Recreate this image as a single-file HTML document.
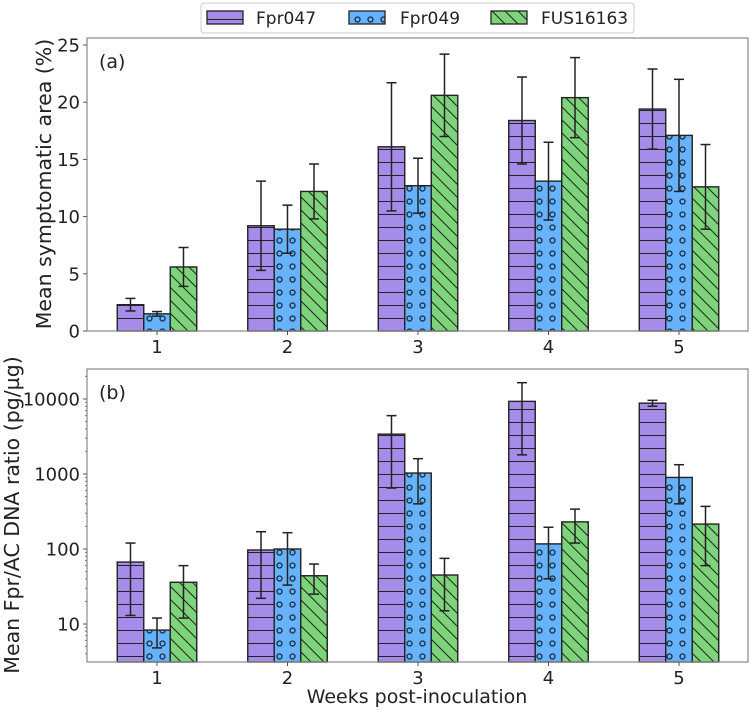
<!DOCTYPE html>
<html><head><meta charset="utf-8"><style>
body{margin:0;background:#fff;}
svg{display:block;font-family:"DejaVu Sans","Liberation Sans",sans-serif;}
</style></head><body>
<svg id="chart" width="751" height="711" viewBox="0 0 751 711" xmlns="http://www.w3.org/2000/svg">
<defs>
<pattern id="pH" patternUnits="userSpaceOnUse" width="13" height="13"><rect width="13" height="13" fill="#a68ce9"/><line x1="0" y1="6.5" x2="13" y2="6.5" stroke="#222" stroke-width="1"/></pattern>
<pattern id="pO" patternUnits="userSpaceOnUse" width="13" height="13"><rect width="13" height="13" fill="#66b2fb"/><circle cx="6.5" cy="6.5" r="2.5" fill="none" stroke="#1a2a44" stroke-width="1.3"/></pattern>
<pattern id="pD" patternUnits="userSpaceOnUse" width="13" height="13"><rect width="13" height="13" fill="#7ed47a"/><path d="M0,0 L13,13 M-6.5,6.5 L6.5,19.5 M6.5,-6.5 L19.5,6.5" stroke="#222" stroke-width="1"/></pattern>
</defs>
<g id="legend">
<rect x="201" y="3" width="433" height="30" rx="3" fill="#fff" stroke="#ccc"/>
<rect x="207" y="11" width="36" height="13" fill="url(#pH)" stroke="#222" stroke-width="1.3"/>
<text x="256" y="24" font-size="17" fill="#222">Fpr047</text>
<rect x="349" y="11" width="36" height="13" fill="url(#pO)" stroke="#222" stroke-width="1.3"/>
<text x="400" y="24" font-size="17" fill="#222">Fpr049</text>
<rect x="491" y="11" width="36" height="13" fill="url(#pD)" stroke="#222" stroke-width="1.3"/>
<text x="541" y="24" font-size="17" fill="#222">FUS16163</text>
</g>
<g id="top"></g>
<g id="bot"></g>
<text x="417" y="703" font-size="19" fill="#222" text-anchor="middle">Weeks post-inoculation</text>
</svg>
<script>
const weeks = ["1","2","3","4","5"];
const seriesNames = ["Fpr047","Fpr049","FUS16163"];
const areaFpr047 = [2.3, 9.2, 16.1, 18.4, 19.4];
const areaFpr047Err = [0.55, 3.9, 5.6, 3.8, 3.5];
const areaFpr049 = [1.5, 8.9, 12.7, 13.1, 17.1];
const areaFpr049Err = [0.2, 2.1, 2.4, 3.4, 4.9];
const areaFUS = [5.6, 12.2, 20.6, 20.4, 12.6];
const areaFUSErr = [1.7, 2.4, 3.6, 3.5, 3.7];
const dnaFpr047 = [67, 97, 3400, 9300, 8800];
const dnaFpr047Lo = [13, 22, 650, 1800, 8000];
const dnaFpr047Hi = [120, 170, 6000, 16500, 9600];
const dnaFpr049 = [8.3, 100, 1030, 117, 900];
const dnaFpr049Lo = [4.8, 33, 400, 40, 400];
const dnaFpr049Hi = [12, 165, 1600, 195, 1330];
const dnaFUS = [36, 44, 45, 230, 215];
const dnaFUSLo = [12, 25, 15, 120, 60];
const dnaFUSHi = [60, 63, 75, 340, 370];
const areaTicks = [0,5,10,15,20,25];
const dnaTicks = [10,100,1000,10000];

const NS="http://www.w3.org/2000/svg";
function mk(parent,tag,attrs){const e=document.createElementNS(NS,tag);for(const k in attrs)e.setAttribute(k,attrs[k]);parent.appendChild(e);return e;}
const L=87,R=748,groupW=130.5,barW=26.5;
const xC=i=>L+70+i*groupW;
const fills=["url(#pH)","url(#pO)","url(#pD)"];
const keys=["fpr047","fpr049","fus16163"];
let ylabelX=51;

function panel(g,T,B,yFn,vals,lo,hi,ticks,tickLab,label,title,ylabelY,log){
  mk(g,"rect",{x:L,y:T,width:R-L,height:B-T,fill:"#fff",stroke:"none"});
  for(let s=0;s<3;s++){
    for(let i=0;i<5;i++){
      const x=xC(i)+(s-1)*barW-barW/2, y=yFn(vals[s][i]);
      const r=mk(g,"rect",{x:x,y:y,width:barW,height:B-y,fill:fills[s],stroke:"#222","stroke-width":1.4});
      
      
    }
  }
  for(let s=0;s<3;s++){
    for(let i=0;i<5;i++){
      const cx=xC(i)+(s-1)*barW, y1=yFn(lo[s][i]), y2=yFn(hi[s][i]);
      const eg=mk(g,"g",{stroke:"#222","stroke-width":1.5});
      
      
      mk(eg,"line",{x1:cx,y1:y1,x2:cx,y2:y2});
      mk(eg,"line",{x1:cx-5,y1:y1,x2:cx+5,y2:y1});
      mk(eg,"line",{x1:cx-5,y1:y2,x2:cx+5,y2:y2});
    }
  }
  mk(g,"rect",{x:L,y:T,width:R-L,height:B-T,fill:"none",stroke:"#888","stroke-width":1.2});
  ticks.forEach((t,j)=>{
    const y=yFn(t);
    mk(g,"line",{x1:L-4,y1:y,x2:L,y2:y,stroke:"#555"});
    const tx=mk(g,"text",{x:L-7,y:y+6.5,"font-size":18,"text-anchor":"end",fill:"#222"});
    tx.textContent=tickLab[j];
    
    
  });
  if(log){
    for(let d=0;d<=4;d++)for(let m=2;m<=9;m++){const v=m*Math.pow(10,d);const y=yFn(v);if(y>T&&y<B)mk(g,"line",{x1:L-2,y1:y,x2:L,y2:y,stroke:"#777"});}
  }
  weeks.forEach((w,i)=>{
    mk(g,"line",{x1:xC(i),y1:B,x2:xC(i),y2:B+4,stroke:"#555"});
    const tx=mk(g,"text",{x:xC(i),y:B+22,"font-size":18,"text-anchor":"middle",fill:"#222"});
    tx.textContent=w;
    
    
  });
  const pl=mk(g,"text",{x:L+12,y:T+30,"font-size":19,fill:"#222"});pl.textContent=label;
  
  
  const yt=mk(g,"text",{x:0,y:0,"font-size":20.5,"text-anchor":"middle",fill:"#222",transform:`translate(${ylabelX},${ylabelY}) rotate(-90)`});
  yt.textContent=title;
  
  
}
const T1=38,B1=331;
const yA=v=>B1-v*(B1-45)/25;
const errLo=(v,e)=>v.map((x,i)=>x-e[i]), errHi=(v,e)=>v.map((x,i)=>x+e[i]);
panel(document.getElementById("top"),T1,B1,yA,[areaFpr047,areaFpr049,areaFUS],
 [errLo(areaFpr047,areaFpr047Err),errLo(areaFpr049,areaFpr049Err),errLo(areaFUS,areaFUSErr)],
 [errHi(areaFpr047,areaFpr047Err),errHi(areaFpr049,areaFpr049Err),errHi(areaFUS,areaFUSErr)],
 areaTicks,areaTicks.map(String),"(a)","Mean symptomatic area (%)",184,false);
ylabelX=19;
const T2=369,B2=662;
const yB=v=>624-(Math.log10(v)-1)*75;
panel(document.getElementById("bot"),T2,B2,yB,[dnaFpr047,dnaFpr049,dnaFUS],
 [dnaFpr047Lo,dnaFpr049Lo,dnaFUSLo],[dnaFpr047Hi,dnaFpr049Hi,dnaFUSHi],
 dnaTicks,dnaTicks.map(String),"(b)","Mean Fpr/AC DNA ratio (pg/µg)",515,true);
</script>
</body></html>
